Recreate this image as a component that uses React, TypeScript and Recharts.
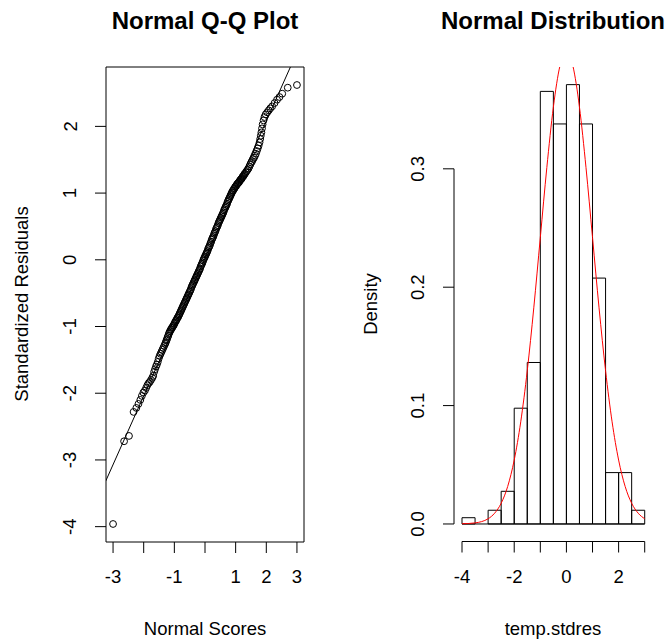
import React from "react";
import {
  ScatterChart,
  Scatter,
  ComposedChart,
  Line,
  XAxis,
  YAxis,
  ReferenceLine,
  ReferenceArea,
} from "recharts";

const FONT = '"Liberation Sans", Arial, Helvetica, sans-serif';
const AXIS_FONT = 18.5;
const TITLE_FONT = 24;

// Q-Q plot: normal scores vs sorted standardized residuals
const qqScores = [
  -3.0, -2.64, -2.48, -2.33, -2.24, -2.17, -2.11, -2.06, -2.01, -1.96,
  -1.92, -1.88, -1.84, -1.8, -1.76, -1.72, -1.69, -1.66, -1.63, -1.6,
  -1.57, -1.54, -1.51, -1.48, -1.45, -1.42, -1.39, -1.36, -1.33,
  -1.3, -1.28, -1.26, -1.24, -1.22, -1.2, -1.18, -1.16, -1.14, -1.12,
  -1.1, -1.08, -1.06, -1.04, -1.02, -1.0, -0.98, -0.96, -0.94, -0.92,
  -0.9, -0.88, -0.86, -0.84, -0.82, -0.8, -0.78, -0.76, -0.74, -0.72,
  -0.7, -0.68, -0.66, -0.64, -0.62, -0.6, -0.58, -0.56, -0.54, -0.52,
  -0.5, -0.48, -0.46, -0.44, -0.42, -0.4, -0.38, -0.36, -0.34, -0.32,
  -0.3, -0.28, -0.26, -0.24, -0.22, -0.2, -0.18, -0.16, -0.14, -0.12,
  -0.1, -0.08, -0.06, -0.04, -0.02, 0.0, 0.02, 0.04, 0.06, 0.08,
  0.1, 0.12, 0.14, 0.16, 0.18, 0.2, 0.22, 0.24, 0.26, 0.28,
  0.3, 0.32, 0.34, 0.36, 0.38, 0.4, 0.42, 0.44, 0.46, 0.48,
  0.5, 0.52, 0.54, 0.56, 0.58, 0.6, 0.62, 0.64, 0.66, 0.68,
  0.7, 0.72, 0.74, 0.76, 0.78, 0.8, 0.82, 0.84, 0.86, 0.88,
  0.9, 0.92, 0.94, 0.96, 0.98, 1.0, 1.02, 1.04, 1.06, 1.08,
  1.1, 1.12, 1.14, 1.16, 1.18, 1.2, 1.22, 1.24, 1.26, 1.28,
  1.3, 1.33, 1.36, 1.39, 1.42, 1.45, 1.48, 1.51, 1.54, 1.57,
  1.6, 1.63, 1.66, 1.69, 1.72, 1.75, 1.78, 1.8, 1.82, 1.84,
  1.86, 1.88, 1.91, 1.94, 1.98, 2.03, 2.08, 2.13, 2.19, 2.27,
  2.35, 2.43, 2.52, 2.7, 3.0,
];
const qqResiduals = [
  -3.96, -2.72, -2.64, -2.28, -2.22, -2.16, -2.1, -2.04, -1.99, -1.96,
  -1.92, -1.88, -1.85, -1.83, -1.8, -1.77, -1.74, -1.68, -1.64, -1.6,
  -1.57, -1.53, -1.48, -1.44, -1.41, -1.38, -1.35, -1.32, -1.29,
  -1.26, -1.24, -1.21, -1.19, -1.16, -1.14, -1.11, -1.09, -1.07, -1.05,
  -1.04, -1.02, -1.01, -0.99, -0.98, -0.96, -0.94, -0.92, -0.91, -0.89,
  -0.87, -0.86, -0.84, -0.82, -0.8, -0.78, -0.76, -0.74, -0.72, -0.7,
  -0.68, -0.66, -0.64, -0.62, -0.6, -0.58, -0.56, -0.54, -0.52, -0.5,
  -0.48, -0.46, -0.44, -0.41, -0.39, -0.37, -0.35, -0.33, -0.31, -0.29,
  -0.27, -0.25, -0.23, -0.21, -0.19, -0.17, -0.15, -0.13, -0.1, -0.08,
  -0.06, -0.04, -0.01, 0.01, 0.03, 0.05, 0.07, 0.09, 0.11, 0.13,
  0.16, 0.18, 0.2, 0.22, 0.25, 0.27, 0.3, 0.32, 0.34, 0.36,
  0.39, 0.41, 0.43, 0.46, 0.48, 0.5, 0.52, 0.55, 0.57, 0.59,
  0.61, 0.63, 0.65, 0.67, 0.69, 0.71, 0.74, 0.76, 0.78, 0.8,
  0.82, 0.84, 0.87, 0.89, 0.91, 0.93, 0.95, 0.97, 0.99, 1.01,
  1.03, 1.04, 1.06, 1.07, 1.09, 1.1, 1.11, 1.13, 1.14, 1.15,
  1.16, 1.17, 1.19, 1.2, 1.21, 1.22, 1.24, 1.25, 1.26, 1.28,
  1.29, 1.31, 1.33, 1.35, 1.37, 1.4, 1.43, 1.46, 1.48, 1.51,
  1.53, 1.56, 1.59, 1.63, 1.67, 1.71, 1.76, 1.81, 1.86, 1.91,
  1.97, 2.03, 2.09, 2.14, 2.18, 2.21, 2.24, 2.27, 2.3, 2.35,
  2.4, 2.44, 2.49, 2.58, 2.62,
];
const qqLineIntercept = 0.02;
const qqLineSlope = 1.03;

const qqXTicks = [-3, -2, -1, 0, 1, 2, 3];
const qqXLabels = [-3, -1, 1, 2, 3];
const qqYTicks = [-4, -3, -2, -1, 0, 1, 2];

// histogram of temp.stdres (density scale)
const binStarts = [-4, -3.5, -3, -2.5, -2, -1.5, -1, -0.5, 0, 0.5, 1, 1.5, 2, 2.5];
const binWidth = 0.5;
const binDensity = [
  0.0053, 0, 0.0116, 0.0276, 0.0978, 0.1364, 0.3654, 0.3379, 0.3711, 0.3379,
  0.2077, 0.0434, 0.0434, 0.0116,
];

// red normal curve
const curveX = [
  -4, -3.75, -3.5, -3.25, -3, -2.75, -2.5, -2.25, -2, -1.75, -1.5, -1.25, -1,
  -0.75, -0.5, -0.25, 0, 0.25, 0.5, 0.75, 1, 1.25, 1.5, 1.75, 2, 2.25, 2.5,
  2.75, 3,
];
const curveDensity = [
  0.0002, 0.0004, 0.0009, 0.002, 0.0044, 0.0091, 0.0175, 0.0317, 0.054,
  0.0863, 0.1295, 0.1826, 0.242, 0.3011, 0.3521, 0.3867, 0.3989, 0.3867,
  0.3521, 0.3011, 0.242, 0.1826, 0.1295, 0.0863, 0.054, 0.0317, 0.0175,
  0.0091, 0.0044,
];

const histXTicks = [-4, -3, -2, -1, 0, 1, 2, 3];
const histXLabels = [-4, -2, 0, 2];
const histYTicks = [0, 0.1, 0.2, 0.3];

const qqData = qqScores.map((x, i) => ({ x, y: qqResiduals[i] }));
const curveData = curveX.map((x, i) => ({ x, d: curveDensity[i] }));

const QQ_X: [number, number] = [-3.23, 3.23];
const QQ_Y: [number, number] = [-4.23, 2.89];
const H_X: [number, number] = [-4.307, 3.279];
const H_Y: [number, number] = [-0.0148, 0.386];

const AXIS_W = 30;
const AXIS_H = 30;

const textStyle = { fontFamily: FONT, fontSize: AXIS_FONT, fill: "#000" };

const makeXTick = (labels: number[], labelY: number) => (props: any) => {
  const v = props.payload.value;
  if (!labels.includes(v)) return <g />;
  return (
    <text x={props.x} y={labelY} textAnchor="middle" {...textStyle}>
      {String(v)}
    </text>
  );
};

const makeYTick = (labelX: number, fmt: (v: number) => string) => (props: any) => {
  const y = props.y;
  return (
    <text
      x={labelX}
      y={y}
      transform={`rotate(-90 ${labelX} ${y})`}
      textAnchor="middle"
      dominantBaseline="central"
      {...textStyle}
    >
      {fmt(props.payload.value)}
    </text>
  );
};

const fixedText = (x: number, y: number, text: string, rotate = false) => ({
  content: () => (
    <text
      x={x}
      y={y}
      transform={rotate ? `rotate(-90 ${x} ${y})` : undefined}
      textAnchor="middle"
      dominantBaseline={rotate ? "central" : undefined}
      {...textStyle}
    >
      {text}
    </text>
  ),
});

const OpenCircle = (props: any) => (
  <circle cx={props.cx} cy={props.cy} r={3.4} fill="none" stroke="#000" strokeWidth={1} />
);

const Title = ({ x, text }: { x: number; text: string }) => (
  <text x={x} y={29} textAnchor="middle" fontFamily={FONT} fontSize={TITLE_FONT} fontWeight="bold" fill="#000">
    {text}
  </text>
);

function QQPanel() {
  const x0 = -3.6;
  const x1 = 3.6;
  return (
    <ScatterChart
      width={332}
      height={639}
      margin={{ top: 67, right: 28, bottom: 97 - AXIS_H, left: 106 - AXIS_W }}
    >
      <Title x={205} text="Normal Q-Q Plot" />
      <XAxis
        type="number"
        dataKey="x"
        domain={QQ_X}
        ticks={qqXTicks}
        interval={0}
        height={AXIS_H}
        allowDataOverflow
        axisLine={false}
        tickLine={{ stroke: "#000" }}
        tickSize={11}
        tick={makeXTick(qqXLabels, 583)}
        label={fixedText(205, 635, "Normal Scores")}
      />
      <YAxis
        type="number"
        dataKey="y"
        domain={QQ_Y}
        ticks={qqYTicks}
        interval={0}
        width={AXIS_W}
        allowDataOverflow
        axisLine={false}
        tickLine={{ stroke: "#000" }}
        tickSize={11}
        tick={makeYTick(70, (v) => String(v))}
        label={fixedText(21, 304, "Standardized Residuals", true)}
      />
      <ReferenceArea
        x1={QQ_X[0]}
        x2={QQ_X[1]}
        y1={QQ_Y[0]}
        y2={QQ_Y[1]}
        fill="none"
        stroke="#000"
        strokeWidth={1}
        ifOverflow="visible"
      />
      <ReferenceLine
        segment={[
          { x: x0, y: qqLineIntercept + qqLineSlope * x0 },
          { x: x1, y: qqLineIntercept + qqLineSlope * x1 },
        ]}
        stroke="#000"
        strokeWidth={1}
        ifOverflow="hidden"
      />
      <Scatter data={qqData} shape={OpenCircle} isAnimationActive={false} />
    </ScatterChart>
  );
}

function HistPanel() {
  return (
    <ComposedChart
      width={333}
      height={639}
      margin={{ top: 67, right: 13, bottom: 97.5 - AXIS_H, left: 122 - AXIS_W }}
    >
      <Title x={221} text="Normal Distribution" />
      <XAxis
        type="number"
        dataKey="x"
        domain={H_X}
        ticks={histXTicks}
        interval={0}
        height={AXIS_H}
        allowDataOverflow
        axisLine={false}
        tickLine={{ stroke: "#000" }}
        tickSize={11}
        tick={makeXTick(histXLabels, 583)}
        label={fixedText(221, 635, "temp.stdres")}
      />
      <YAxis
        type="number"
        domain={H_Y}
        ticks={histYTicks}
        interval={0}
        width={AXIS_W}
        allowDataOverflow
        axisLine={false}
        tickLine={{ stroke: "#000" }}
        tickSize={11}
        tick={makeYTick(86, (v) => v.toFixed(1))}
        label={fixedText(38, 304, "Density", true)}
      />
      <ReferenceLine
        segment={[
          { x: H_X[0], y: histYTicks[0] },
          { x: H_X[0], y: histYTicks[histYTicks.length - 1] },
        ]}
        stroke="#000"
        ifOverflow="visible"
      />
      <ReferenceLine
        segment={[
          { x: histXTicks[0], y: H_Y[0] },
          { x: histXTicks[histXTicks.length - 1], y: H_Y[0] },
        ]}
        stroke="#000"
        ifOverflow="visible"
      />
      <ReferenceLine
        segment={[
          { x: binStarts[0], y: 0 },
          { x: binStarts[binStarts.length - 1] + binWidth, y: 0 },
        ]}
        stroke="#000"
        ifOverflow="visible"
      />
      {binStarts.map((s, i) => (
        <ReferenceArea
          key={`bin-${i}`}
          x1={s}
          x2={s + binWidth}
          y1={0}
          y2={binDensity[i]}
          fill="none"
          stroke="#000"
          strokeWidth={1}
          ifOverflow="visible"
        />
      ))}
      <Line
        data={curveData}
        dataKey="d"
        type="monotone"
        stroke="#ff0000"
        strokeWidth={1}
        dot={false}
        isAnimationActive={false}
      />
    </ComposedChart>
  );
}

export default function App() {
  return (
    <div style={{ position: "absolute", left: 0, top: 0, width: 665, height: 639, background: "#fff" }}>
      <div style={{ position: "absolute", left: 0, top: 0 }}>
        <QQPanel />
      </div>
      <div style={{ position: "absolute", left: 332, top: 0 }}>
        <HistPanel />
      </div>
    </div>
  );
}
